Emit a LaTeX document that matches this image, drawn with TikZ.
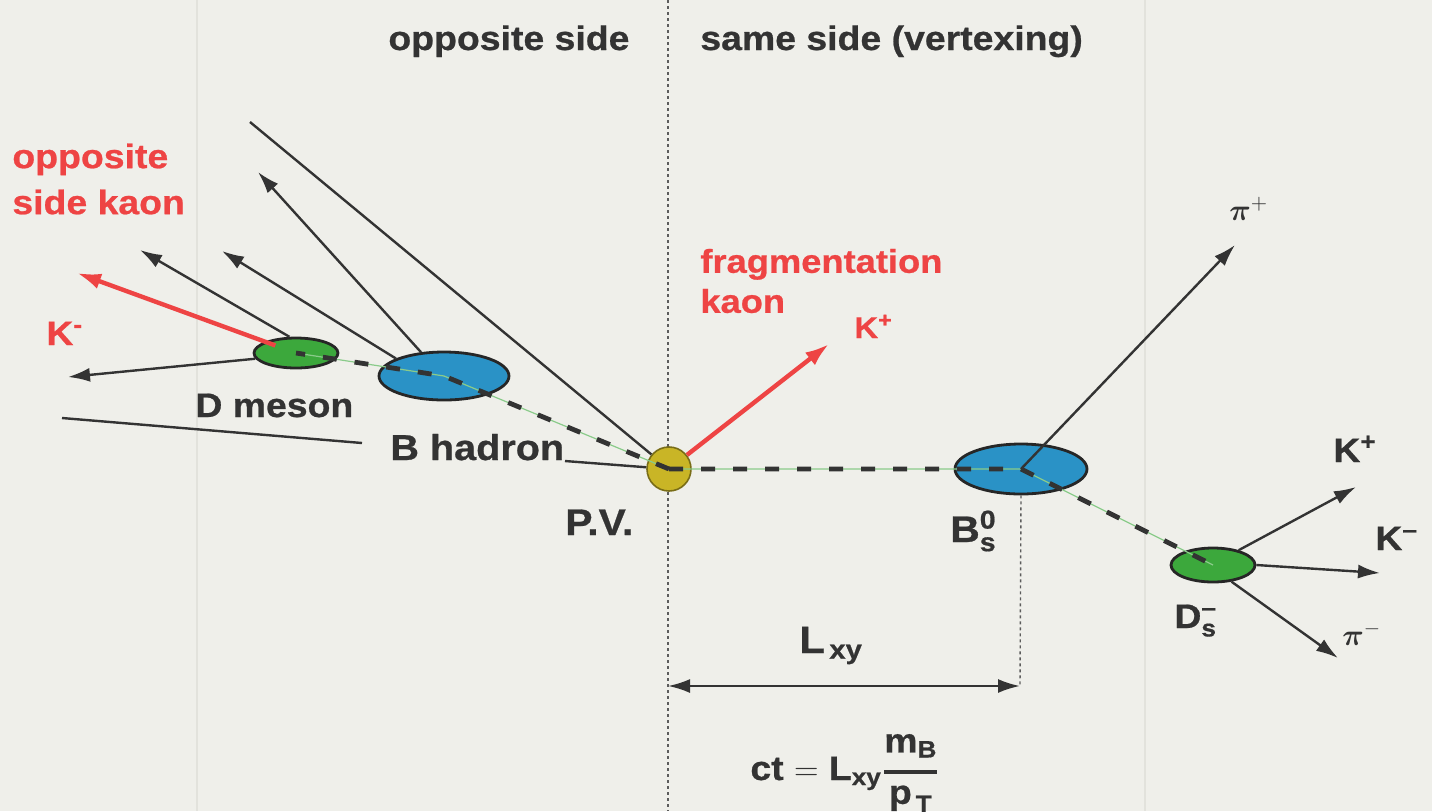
\RequirePackage{fix-cm}
\documentclass[tikz,border=0pt]{standalone}
\usepackage{amsmath}
\usepackage{fontspec}
\setmainfont{Liberation Sans}[FakeStretch=1.1, BoldFeatures={FakeBold=0.7}]
\usetikzlibrary{shapes.geometric,arrows.meta}
\definecolor{bg}{HTML}{EFEFEA}
\definecolor{seam}{HTML}{E2E2DC}
\definecolor{ink}{HTML}{333333}
\definecolor{kred}{HTML}{EE4444}
\definecolor{bblue}{HTML}{2A92C6}
\definecolor{dgreen}{HTML}{3CA83C}
\definecolor{pvyel}{HTML}{C9B526}
\begin{document}
\begin{tikzpicture}[x=0.5pt,y=-0.5pt,
  lbl/.style={font=\fontsize{17}{20}\selectfont\bfseries, text=ink, inner sep=0pt},
  biglbl/.style={lbl, font=\fontsize{18.5}{22}\selectfont\bfseries},
  rlbl/.style={lbl, text=kred},
  trk/.style={draw=ink, line width=1.2pt},
  trka/.style={trk, -{Latex[length=11pt,width=7pt]}},
  ktrk/.style={draw=kred, line width=2.2pt, -{Latex[length=12pt,width=8pt]}},
  flight/.style={draw=ink, line width=2.4pt, dash pattern=on 7pt off 9pt},
  flightg/.style={draw=dgreen!60, line width=0.6pt},
  vtx/.style={ellipse, draw=black!85, line width=1.4pt, inner sep=0pt},
  guide/.style={draw=ink!80, line width=0.7pt, dash pattern=on 1.5pt off 1.5pt},
  seamline/.style={draw=seam, line width=1.2pt}]
\fill[bg] (0,0) rectangle (1432,811);
\useasboundingbox (0,0) rectangle (1432,811);
% faint scan seams
\coordinate (s1t) at (197,0); \coordinate (s1b) at (197,811);
\coordinate (s2t) at (1145,0); \coordinate (s2b) at (1145,811);
\draw[seamline] (s1t) -- (s1b);
\draw[seamline] (s2t) -- (s2b);
% main guide
\coordinate (gTop) at (668,0);
\coordinate (gBot) at (668,811);
\draw[guide] (gTop) -- (gBot);
% headings
\node[lbl, anchor=base west] (hOpp) at (388,50) {opposite side};
\node[lbl, anchor=base west] (hSame) at (700,50) {same side (vertexing)};
% vertices
\node[circle, draw=pvyel!60!black, line width=0.8pt, fill=pvyel, minimum size=22pt, inner sep=0pt] (PV) at (669,469) {};
\node[vtx, fill=bblue, minimum width=66pt, minimum height=25pt] (BS) at (1021,469) {};
\node[vtx, fill=dgreen, minimum width=42pt, minimum height=17pt] (DS) at (1213,565) {};
\node[vtx, fill=bblue, minimum width=65pt, minimum height=24pt] (BH) at (444,376) {};
\node[vtx, fill=dgreen, minimum width=42pt, minimum height=15pt] (DM) at (296,353) {};
% end points
\coordinate (topEnd) at (250,122);
\coordinate (bhA) at (565,461);
\coordinate (bhB) at (362,443);
\coordinate (lowFar) at (62,418);
\coordinate (bh1) at (258,172);
\coordinate (bh2) at (222,251);
\coordinate (dm1) at (140,250);
\coordinate (dm2) at (68,377);
\coordinate (kmEnd) at (77,273);
\coordinate (kpEnd) at (829,344);
\coordinate (pipEnd) at (1235,245);
\coordinate (kp2End) at (1356,487);
\coordinate (km2End) at (1380,573);
\coordinate (pimEnd) at (1338,658);
\coordinate (lxyL) at (668,686);
\coordinate (lxyR) at (1020,686);
% opposite side tracks
\draw[trk] (PV) -- (topEnd);
\draw[trk] (PV) -- (bhA);
\draw[trk] (bhB) -- (lowFar);
\draw[trka] (BH.134) -- (bh1);
\draw[trka] (BH.160) -- (bh2);
\draw[trka] (DM.112) -- (dm1);
\draw[trka] (DM.188) -- (dm2);
% flight paths
\draw[flightg] (PV.center) -- (BH.center) -- (DM.center);
\draw[flight] (PV.center) -- (BH.center) -- (DM.center);
\draw[flightg] (PV.center) -- (BS.center) -- (DS.center);
\draw[flight] (PV.center) -- (BS.center) -- (DS.center);
\draw[ktrk, shorten <=11pt] (DM.center) -- (kmEnd);
% same side tracks
\draw[ktrk] (PV) -- (kpEnd);
\draw[trka] (BS.center) -- (pipEnd);
\draw[trka] (DS.30) -- (kp2End);
\draw[trka] (DS.0) -- (km2End);
\draw[trka] (DS.-42) -- (pimEnd);
% decay length
\draw[guide] (BS.south) -- (lxyR);
\draw[trk, {Latex[length=11pt,width=7pt]}-{Latex[length=11pt,width=7pt]}] (lxyL) -- (lxyR);
% labels
\node[rlbl, anchor=west, align=left, font=\fontsize{17}{23}\selectfont\bfseries] (oskLbl) at (12,179) {opposite\\side kaon};
\node[rlbl, anchor=base west] (kmLbl) at (46,345) {K$^{\textbf{-}}$};
\node[lbl, anchor=base west] (dmLbl) at (195,417) {D meson};
\node[lbl, anchor=base west, font=\fontsize{18}{22}\selectfont\bfseries] (bhLbl) at (390,460) {B hadron};
\node[biglbl, anchor=base west] (pvLbl) at (565,535) {P.V.};
\node[rlbl, anchor=west, align=left, font=\fontsize{16.5}{20}\selectfont\bfseries] (fkLbl) at (700,281) {fragmentation\\kaon};
\node[rlbl, anchor=base west, font=\fontsize{15}{18}\selectfont\bfseries] (kpLbl) at (854,338) {K$^{\textbf{+}}$};
\node[biglbl, anchor=base west] (bsLbl) at (950,542) {B$^{\textbf{0}}_{\textbf{s}}$};
\node[lbl, anchor=base west] (dsLbl) at (1174,628) {D$^{\textbf{--}}_{\textbf{s}}$};
\node[lbl, anchor=base west, font=\fontsize{15}{18}\selectfont] (pipLbl) at (1229,220) {$\boldsymbol{\pi}^+$};
\node[lbl, anchor=base west] (kp2Lbl) at (1333,462) {K$^{\textbf{+}}$};
\node[lbl, anchor=base west] (km2Lbl) at (1375,550) {K$^{\textbf{--}}$};
\node[lbl, anchor=base west, font=\fontsize{15}{18}\selectfont] (pimLbl) at (1342,645) {$\boldsymbol{\pi}^-$};
\node[lbl, anchor=base west, font=\fontsize{19}{22}\selectfont\bfseries] (lxyLbl) at (799,653) {L$_{\,\textbf{xy}}$};
\node[lbl, anchor=base west, font=\fontsize{17}{20}\selectfont\bfseries] (ctLbl) at (750,780) {ct $=$ L$_{\textbf{xy}}\genfrac{}{}{2pt}{0}{\textbf{m}_{\textbf{B}}}{\textbf{p}_{\,\textbf{T}}}$};
\end{tikzpicture}
\end{document}
